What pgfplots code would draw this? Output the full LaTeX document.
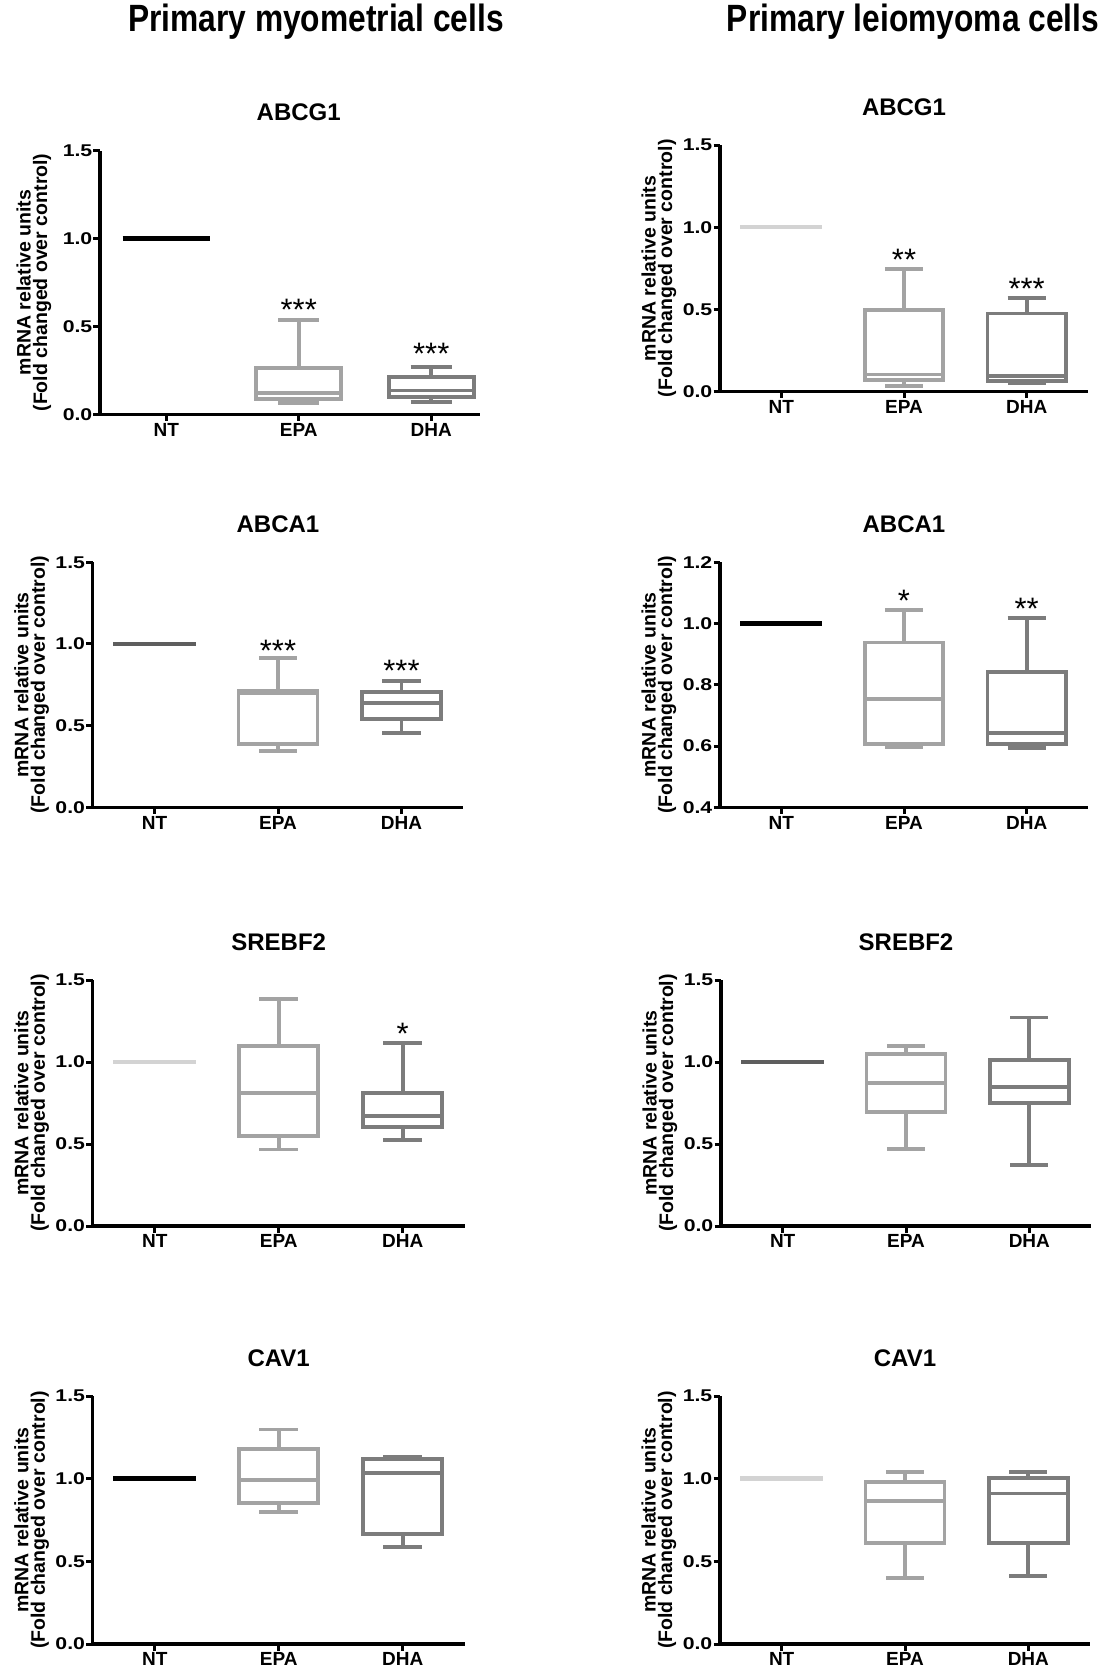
\documentclass[border=0pt]{standalone}
\usepackage{fontspec}
\setmainfont{Liberation Sans}
\usepackage{graphicx}
\usepackage{pgfplots}
\pgfplotsset{compat=1.18}
\usepgfplotslibrary{statistics}
\newcommand{\fs}[1]{\fontsize{#1}{#1}\selectfont}
\definecolor{epa}{HTML}{A3A3A3}
\definecolor{dha}{HTML}{7C7C7C}
\definecolor{ntlight}{HTML}{D3D3D3}
\definecolor{ntdark}{HTML}{5E5E5E}
\pgfplotsset{
  panel/.style={
    scale only axis, anchor=south west, clip=false,
    axis lines=left, axis line style={-, line width=3.3pt},
    tick align=outside, major tick length=6.5pt,
    tick style={line width=3pt, black},
    xmin=-0.5, xmax=2.5, ymin=0, ymax=1.5, ytick={0,0.5,1,1.5},
    xtick={0,1,2}, xticklabels={NT,EPA,DHA},
    xticklabel style={font=\bfseries\fs{19}, inner sep=2pt},
    yticklabel style={font=\bfseries\fs{17}, inner xsep=1pt},
    yticklabel={\scalebox{1.25}[1]{\pgfmathprintnumber[fixed,fixed zerofill,precision=1]{\tick}}},
    /pgf/number format/assume math mode=true,
    ylabel={mRNA relative units\\(Fold changed over control)},
  },
  ylab/.style={every axis y label/.style={at={(axis description cs:#1,0.5)}, rotate=90, anchor=center, align=center, font=\bfseries\fontsize{19.5}{16.5}\selectfont}},
}
% color, position, lower whisker, lower quartile, median, upper quartile, upper whisker
\newcommand{\bx}[7]{\addplot[color=#1, line width=3.8pt, boxplot/draw direction=y, boxplot prepared={draw position=#2, lower whisker=#3, lower quartile=#4, median=#5, upper quartile=#6, upper whisker=#7, box extend=0.64, whisker extend=0.31}] coordinates {};}
\newcommand{\nt}[2]{\addplot[color=#1, line width=4.5pt] coordinates {(-#2,1) (#2,1)};}
\newcommand{\stars}[3]{\node[font=\fs{31}, anchor=base, yshift=-17.5pt] at (axis cs:#1,#2) {#3};}
\newcommand{\ttl}[2]{\node[font=\bfseries\fs{24}, anchor=base, yshift=30pt] at (axis cs:1,#1) {#2};}
\begin{document}
\begin{tikzpicture}[x=1pt,y=1pt]
\useasboundingbox (0,0) rectangle (1105,-1676);
\node[anchor=base, font=\bfseries\fs{38}] at (316,-31.5) {\scalebox{0.835}[1]{Primary myometrial cells}};
\node[anchor=base, font=\bfseries\fs{38}] at (913,-31.5) {\scalebox{0.835}[1]{Primary leiomyoma cells}};

% P1 myometrial ABCG1
\begin{axis}[panel, ylab=-0.1737, at={(100pt,-414.3pt)}, width=380pt, height=263.6pt, xmax=2.368]
\nt{black}{0.33}
\bx{epa}{1}{0.063}{0.087}{0.119}{0.262}{0.537}
\bx{dha}{2}{0.072}{0.100}{0.135}{0.214}{0.271}
\stars{1}{0.631}{***}
\stars{2}{0.385}{***}
\ttl{1.5}{ABCG1}
\end{axis}

% P2 leiomyoma ABCG1
\begin{axis}[panel, ylab=-0.166, at={(720pt,-391.7pt)}, width=368pt, height=246.7pt]
\nt{ntlight}{0.335}
\bx{epa}{1}{0.034}{0.071}{0.105}{0.497}{0.746}
\bx{dha}{2}{0.055}{0.065}{0.097}{0.476}{0.572}
\stars{1}{0.845}{**}
\stars{2}{0.669}{***}
\ttl{1.5}{ABCG1}
\end{axis}

% P3 myometrial ABCA1
\begin{axis}[panel, ylab=-0.165, at={(92.7pt,-807.3pt)}, width=370.6pt, height=245pt]
\nt{ntdark}{0.335}
\bx{epa}{1}{0.347}{0.388}{0.698}{0.714}{0.912}
\bx{dha}{2}{0.453}{0.541}{0.641}{0.708}{0.773}
\stars{1}{1.0}{***}
\stars{2}{0.878}{***}
\ttl{1.5}{ABCA1}
\end{axis}

% P4 leiomyoma ABCA1
\begin{axis}[panel, ylab=-0.166, at={(720pt,-807.3pt)}, width=368pt, height=245pt, ymin=0.4, ymax=1.2, ytick={0.4,0.6,0.8,1.0,1.2}]
\nt{black}{0.335}
\bx{epa}{1}{0.595}{0.606}{0.754}{0.938}{1.044}
\bx{dha}{2}{0.593}{0.606}{0.642}{0.841}{1.017}
\stars{1}{1.097}{*}
\stars{2}{1.069}{**}
\ttl{1.2}{ABCA1}
\end{axis}

% P5 myometrial SREBF2
\begin{axis}[panel, ylab=-0.164, at={(92.7pt,-1226pt)}, width=372pt, height=246pt]
\nt{ntlight}{0.335}
\bx{epa}{1}{0.467}{0.549}{0.813}{1.100}{1.384}
\bx{dha}{2}{0.524}{0.606}{0.671}{0.809}{1.118}
\stars{2}{1.215}{*}
\ttl{1.5}{SREBF2}
\end{axis}

% P6 leiomyoma SREBF2
\begin{axis}[panel, ylab=-0.165, at={(721pt,-1226pt)}, width=370pt, height=246pt]
\nt{ntdark}{0.335}
\bx{epa}{1}{0.470}{0.693}{0.870}{1.047}{1.100}
\bx{dha}{2}{0.372}{0.748}{0.850}{1.012}{1.272}
\ttl{1.5}{SREBF2}
\end{axis}

% P7 myometrial CAV1
\begin{axis}[panel, ylab=-0.164, at={(92.7pt,-1644pt)}, width=372pt, height=248pt]
\nt{black}{0.335}
\bx{epa}{1}{0.800}{0.851}{0.992}{1.179}{1.298}
\bx{dha}{2}{0.585}{0.665}{1.036}{1.119}{1.133}
\ttl{1.5}{CAV1}
\end{axis}

% P8 leiomyoma CAV1
\begin{axis}[panel, ylab=-0.165, at={(720pt,-1644pt)}, width=370pt, height=248pt]
\nt{ntlight}{0.335}
\bx{epa}{1}{0.397}{0.609}{0.867}{0.982}{1.042}
\bx{dha}{2}{0.413}{0.609}{0.911}{1.002}{1.042}
\ttl{1.5}{CAV1}
\end{axis}
\end{tikzpicture}
\end{document}
